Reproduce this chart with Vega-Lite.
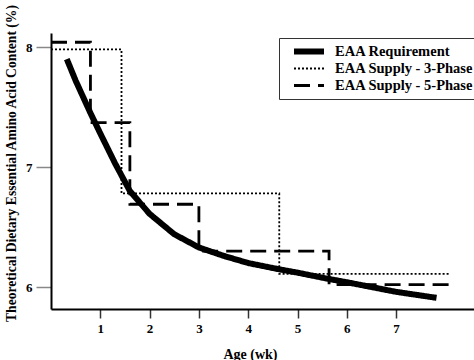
{
  "$schema": "https://vega.github.io/schema/vega-lite/v6.json",
  "autosize": "none",
  "padding": {"left": 51, "top": 33, "right": 0, "bottom": 51},
  "width": 423,
  "height": 276,
  "background": "white",
  "config": {
    "view": {"stroke": null},
    "font": "Liberation Serif",
    "axis": {
      "domainColor": "black",
      "domainWidth": 2,
      "labelFont": "Liberation Serif",
      "labelFontWeight": "bold",
      "labelFontSize": 13,
      "labelColor": "black",
      "titleFont": "Liberation Serif",
      "titleFontWeight": "bold",
      "titleFontSize": 14,
      "titleColor": "black",
      "grid": false
    },
    "legend": {
      "labelFont": "Liberation Serif",
      "labelFontWeight": "bold",
      "labelFontSize": 14.5,
      "labelColor": "black"
    }
  },
  "data": {
    "values": [
      {"series": "EAA Requirement", "i": 0, "x": 0.32, "y": 7.9},
      {"series": "EAA Requirement", "i": 1, "x": 0.5, "y": 7.72},
      {"series": "EAA Requirement", "i": 2, "x": 0.8, "y": 7.45},
      {"series": "EAA Requirement", "i": 3, "x": 1.0, "y": 7.28},
      {"series": "EAA Requirement", "i": 4, "x": 1.3, "y": 7.03},
      {"series": "EAA Requirement", "i": 5, "x": 1.6, "y": 6.8},
      {"series": "EAA Requirement", "i": 6, "x": 2.0, "y": 6.61},
      {"series": "EAA Requirement", "i": 7, "x": 2.5, "y": 6.44},
      {"series": "EAA Requirement", "i": 8, "x": 3.0, "y": 6.33},
      {"series": "EAA Requirement", "i": 9, "x": 3.5, "y": 6.26},
      {"series": "EAA Requirement", "i": 10, "x": 4.0, "y": 6.2},
      {"series": "EAA Requirement", "i": 11, "x": 4.6, "y": 6.15},
      {"series": "EAA Requirement", "i": 12, "x": 5.0, "y": 6.12},
      {"series": "EAA Requirement", "i": 13, "x": 5.6, "y": 6.07},
      {"series": "EAA Requirement", "i": 14, "x": 6.0, "y": 6.04},
      {"series": "EAA Requirement", "i": 15, "x": 6.5, "y": 6.0},
      {"series": "EAA Requirement", "i": 16, "x": 7.0, "y": 5.96},
      {"series": "EAA Requirement", "i": 17, "x": 7.82, "y": 5.91},
      {"series": "EAA Supply - 3-Phase", "i": 0, "x": 0, "y": 7.98},
      {"series": "EAA Supply - 3-Phase", "i": 1, "x": 1.43, "y": 7.98},
      {"series": "EAA Supply - 3-Phase", "i": 2, "x": 1.43, "y": 6.78},
      {"series": "EAA Supply - 3-Phase", "i": 3, "x": 4.63, "y": 6.78},
      {"series": "EAA Supply - 3-Phase", "i": 4, "x": 4.63, "y": 6.11},
      {"series": "EAA Supply - 3-Phase", "i": 5, "x": 8.1, "y": 6.11},
      {"series": "EAA Supply - 5-Phase", "i": 0, "x": 0, "y": 8.04},
      {"series": "EAA Supply - 5-Phase", "i": 1, "x": 0.8, "y": 8.04},
      {"series": "EAA Supply - 5-Phase", "i": 2, "x": 0.8, "y": 7.37},
      {"series": "EAA Supply - 5-Phase", "i": 3, "x": 1.6, "y": 7.37},
      {"series": "EAA Supply - 5-Phase", "i": 4, "x": 1.6, "y": 6.69},
      {"series": "EAA Supply - 5-Phase", "i": 5, "x": 3.0, "y": 6.69},
      {"series": "EAA Supply - 5-Phase", "i": 6, "x": 3.0, "y": 6.3},
      {"series": "EAA Supply - 5-Phase", "i": 7, "x": 5.64, "y": 6.3},
      {"series": "EAA Supply - 5-Phase", "i": 8, "x": 5.64, "y": 6.02},
      {"series": "EAA Supply - 5-Phase", "i": 9, "x": 8.1, "y": 6.02}
    ]
  },
  "mark": {"type": "line", "color": "black", "strokeCap": "butt", "strokeJoin": "miter"},
  "encoding": {
    "x": {
      "field": "x", "type": "quantitative",
      "scale": {"domain": [0, 8.58], "nice": false, "zero": false},
      "axis": {
        "values": [1, 2, 3, 4, 5, 6, 7],
        "title": "Age (wk)",
        "tickColor": "#333",
        "tickSize": 9,
        "tickWidth": 1.5,
        "labelPadding": 4,
        "titleX": 199,
        "titleY": 49,
        "titleBaseline": "alphabetic"
      }
    },
    "y": {
      "field": "y", "type": "quantitative",
      "scale": {"domain": [5.817, 8.117], "nice": false, "zero": false},
      "axis": {
        "values": [6, 7, 8],
        "title": "Theoretical Dietary Essential Amino Acid Content (%)",
        "titleFontSize": 13.6,
        "tickColor": "#888",
        "tickSize": 15,
        "tickWidth": 1.5,
        "labelPadding": 4,
        "titleX": -36,
        "titleY": 130,
        "titleAngle": -90,
        "titleAlign": "center",
        "titleBaseline": "alphabetic"
      }
    },
    "order": {"field": "i", "type": "quantitative"},
    "strokeDash": {
      "field": "series", "type": "nominal",
      "scale": {
        "domain": ["EAA Requirement", "EAA Supply - 3-Phase", "EAA Supply - 5-Phase"],
        "range": [[1, 0], [2, 2], [16, 8]]
      },
      "legend": {
        "title": null,
        "orient": "none",
        "legendX": 228,
        "legendY": 5,
        "padding": 5,
        "strokeColor": "#333",
        "fillColor": "white",
        "symbolType": "stroke",
        "symbolSize": 900,
        "symbolOffset": 7,
        "symbolStrokeColor": "black",
        "labelOffset": 8,
        "clipHeight": 17,
        "rowPadding": 0
      }
    },
    "strokeWidth": {
      "field": "series", "type": "nominal",
      "scale": {
        "type": "ordinal",
        "domain": ["EAA Requirement", "EAA Supply - 3-Phase", "EAA Supply - 5-Phase"],
        "range": [6, 1.8, 2.8]
      },
      "legend": null
    }
  }
}
